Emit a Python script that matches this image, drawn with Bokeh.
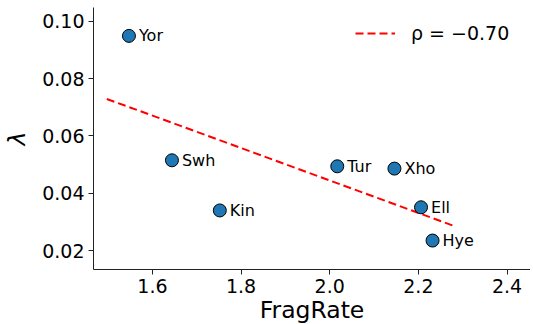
from bokeh.plotting import figure
from bokeh.models import ColumnDataSource, FixedTicker, NumeralTickFormatter, Legend, LegendItem, Range1d
from bokeh.core.properties import value
from bokeh.embed import file_html
from bokeh.resources import INLINE

# ---- data ----
languages = ["Yor", "Swh", "Kin", "Tur", "Xho", "Ell", "Hye"]
frag_rate = [1.547, 1.644, 1.752, 2.017, 2.146, 2.206, 2.232]
lam = [0.0949, 0.0515, 0.0340, 0.0494, 0.0486, 0.0351, 0.0235]
fit_x = [1.497, 2.282]
fit_y = [0.0729, 0.0285]
rho_label = "ρ = −0.70"
x_ticks = [1.6, 1.8, 2.0, 2.2, 2.4]
y_ticks = [0.02, 0.04, 0.06, 0.08, 0.10]

FONT = "DejaVu Sans"

p = figure(width=530, height=326, output_backend="svg", toolbar_location=None,
           x_range=Range1d(1.467, 2.453), y_range=Range1d(0.0134, 0.1048),
           min_border_left=93, min_border_right=0, min_border_top=7, min_border_bottom=0)
p.outline_line_color = None
p.xgrid.visible = False
p.ygrid.visible = False
p.background_fill_color = "white"

src = ColumnDataSource(dict(x=frag_rate, y=lam, name=languages))

fit = p.line(fit_x, fit_y, line_color="red", line_width=2, line_dash="8 4")

p.scatter("x", "y", source=src, size=13, fill_color="#1f77b4", line_color="black", line_width=1)
p.text("x", "y", text="name", source=src, x_offset=10, text_baseline="middle",
       text_font_size="16px", text_font=value(FONT), text_color="black")

legend = Legend(items=[LegendItem(label=rho_label, renderers=[fit])], location=(262, 225))
legend.border_line_color = None
legend.background_fill_alpha = 0
legend.label_text_font_size = "19px"
legend.label_text_font = FONT
legend.label_text_color = "black"
legend.glyph_width = 40
legend.glyph_height = 20
legend.label_standoff = 16
legend.margin = 0
legend.padding = 10
p.add_layout(legend)

for ax in (p.xaxis, p.yaxis):
    ax.major_label_text_font = FONT
    ax.major_label_text_font_size = "19px"
    ax.major_label_text_color = "black"
    ax.axis_label_text_font = FONT
    ax.axis_label_text_font_size = "23.5px"
    ax.axis_label_text_font_style = "normal"
    ax.axis_label_text_color = "black"
    ax.minor_tick_line_color = None
    ax.major_tick_out = 5
    ax.major_tick_in = 0
    ax.axis_line_color = "#222222"
    ax.major_tick_line_color = "#222222"
    ax.major_label_standoff = 4

p.xaxis.ticker = FixedTicker(ticks=x_ticks)
p.xaxis.formatter = NumeralTickFormatter(format="0.0")
p.yaxis.ticker = FixedTicker(ticks=y_ticks)
p.yaxis.formatter = NumeralTickFormatter(format="0.00")
p.xaxis.axis_label = "FragRate"
p.yaxis.axis_label = "λ"
p.yaxis.axis_label_text_font_style = "italic"
p.xaxis.axis_label_standoff = 0
p.yaxis.axis_label_standoff = 8

open("out.html", "w").write(file_html(p, INLINE))
